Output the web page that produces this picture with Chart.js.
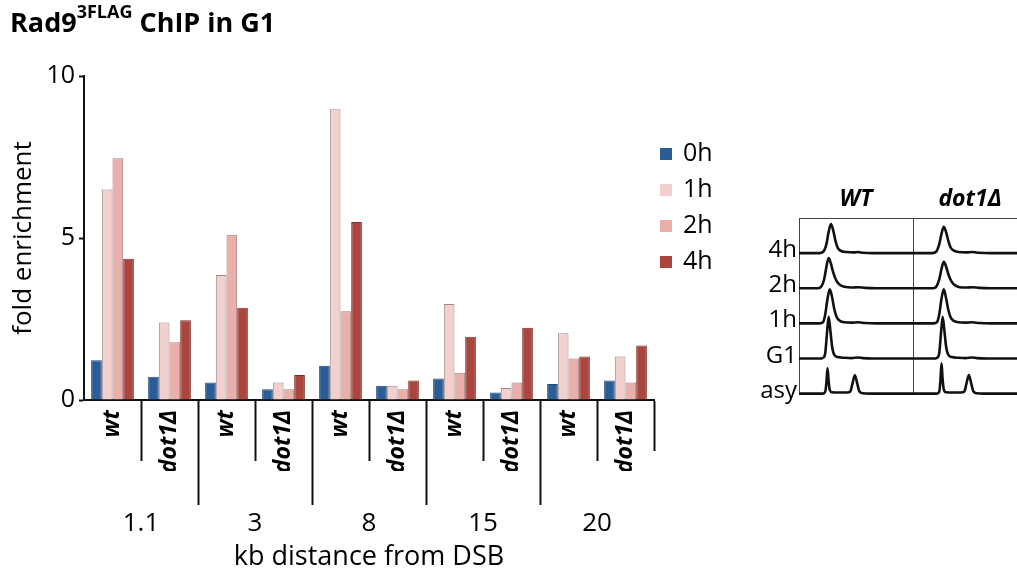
<!DOCTYPE html>
<html>
<head>
<meta charset="utf-8">
<script src="https://cdn.jsdelivr.net/npm/chart.js@4.4.1/dist/chart.umd.min.js"></script>
<style>
  html, body { margin: 0; padding: 0; background: #fff; overflow: hidden; }
  #wrap { position: relative; width: 1017px; height: 571px; overflow: hidden; }
  #main { position: absolute; left: 0; top: 0; }
  #facs { position: absolute; left: 740px; top: 180px; }
  #title { position: absolute; left: 10px; top: 7px; font: bold 27px 'Open Sans', sans-serif; line-height: 30px; color: #000; white-space: nowrap; }
  #title sup { font-size: 18px; vertical-align: baseline; position: relative; top: -14px; }
</style>
</head>
<body>
<div id="wrap">
  <canvas id="main" width="1017" height="571"></canvas>
  <canvas id="facs" width="300" height="230"></canvas>
  <div id="title">Rad9<sup>3FLAG</sup> ChIP in G1</div>
</div>
<script>
// ChIP data: fold enrichment per strain, grouped by distance from the DSB
const strains = ['wt', 'dot1Δ', 'wt', 'dot1Δ', 'wt', 'dot1Δ', 'wt', 'dot1Δ', 'wt', 'dot1Δ'];
const distances = ['1.1', '3', '8', '15', '20'];
const timepoints = ['0h', '1h', '2h', '4h'];
const h0 = [1.23, 0.72, 0.54, 0.33, 1.06, 0.44, 0.66, 0.23, 0.49, 0.60];
const h1 = [6.50, 2.39, 3.86, 0.54, 8.97, 0.44, 2.96, 0.37, 2.06, 1.34];
const h2 = [7.46, 1.78, 5.10, 0.33, 2.74, 0.33, 0.84, 0.54, 1.28, 0.54];
const h4 = [4.36, 2.46, 2.85, 0.77, 5.49, 0.60, 1.95, 2.23, 1.34, 1.68];
const yTicks = [0, 5, 10];

// FACS inset: [DNA content, cell count]
const facsRows = ['4h', '2h', '1h', 'G1', 'asy'];
const facsCols = ['WT', 'dot1Δ'];
const wt4h = [[0,0],[18,0],[21,3],[24,25],[26,60],[28,83],[30,65],[32,35],[34,15],[37,6],[42,3],[48,2],[52,3],[56,1],[65,0],[100,0]];
const wt2h = [[0,0],[16,0],[19,3],[22,25],[24,60],[26,86],[28,70],[30,45],[33,20],[36,9],[40,4],[46,2],[52,3],[58,1],[68,0],[100,0]];
const wt1h = [[0,0],[18,0],[21,3],[23,25],[25,70],[27,97],[29,75],[31,40],[33,18],[36,7],[40,3],[46,2],[52,3],[58,1],[68,0],[100,0]];
const wtG1 = [[0,0],[18,0],[21,2],[23,15],[24.5,70],[26,119],[27.5,80],[29,35],[31,10],[34,4],[40,2],[46,1],[52,3],[56,1],[65,0],[100,0]];
const wtAsy = [[0,0],[21,0],[23,5],[24,30],[25,72],[26,35],[27,10],[29,4],[35,3],[42,3],[45,6],[47,30],[49,52],[51,30],[53,6],[56,1],[62,0],[100,0]];
const dot4h = [[0,0],[17,0],[20,3],[23,25],[25,55],[27,75],[29,60],[31,35],[33,16],[36,7],[40,3],[47,2],[52,3],[58,1],[68,0],[100,0]];
const dot2h = [[0,0],[17,0],[20,3],[23,25],[25,55],[27,75],[29,62],[31,40],[34,18],[37,8],[41,3],[47,2],[52,3],[58,1],[68,0],[100,0]];
const dot1h = [[0,0],[18,0],[21,3],[23,25],[25,70],[27,97],[29,72],[31,38],[33,17],[36,7],[40,3],[46,2],[52,3],[58,1],[68,0],[100,0]];
const dotG1 = [[0,0],[18,0],[21,2],[23,15],[24.5,70],[26,119],[27.5,80],[29,35],[31,10],[34,4],[40,2],[46,1],[52,3],[56,1],[65,0],[100,0]];
const dotAsy = [[0,0],[21,0],[23,5],[24,35],[25,86],[26,40],[27,12],[29,4],[35,3],[42,3],[45,6],[47,30],[49,53],[51,30],[53,6],[56,1],[62,0],[100,0]];

const barColors = ['#2b5c95', '#f2d0ce', '#e8afab', '#ab463f'];
const barEdges = ['#23497a', '#9a8c8b', '#9b7f7d', '#7d302b'];
const font = 'Open Sans';

// legend drawn to the right of the bars
const sideLegend = {
  id: 'sideLegend',
  afterDraw(chart) {
    const { ctx, chartArea } = chart;
    ctx.save();
    ctx.font = '25px "' + font + '"';
    ctx.textBaseline = 'middle';
    chart.data.datasets.forEach((ds, i) => {
      const y = chartArea.top + 78 + i * 36;
      ctx.fillStyle = ds.backgroundColor;
      ctx.fillRect(chartArea.right + 6, y - 6, 12, 12);
      ctx.fillStyle = '#000';
      ctx.fillText(ds.label, chartArea.right + 29, y);
    });
    ctx.restore();
  }
};

const series = [h0, h1, h2, h4];

new Chart(document.getElementById('main'), {
  type: 'bar',
  data: {
    labels: strains,
    datasets: timepoints.map((t, i) => ({
      label: t,
      data: series[i],
      backgroundColor: barColors[i],
      borderColor: barEdges[i],
      borderWidth: 1
    }))
  },
  options: {
    responsive: false,
    animation: false,
    devicePixelRatio: 1,
    layout: { padding: { top: 76, right: 363, bottom: 0, left: 0 } },
    datasets: { bar: { categoryPercentage: 0.75, barPercentage: 1.0 } },
    plugins: { legend: { display: false }, tooltip: { enabled: false } },
    scales: {
      x: {
        position: 'bottom',
        weight: 0,
        grid: {
          offset: true,
          drawOnChartArea: false,
          tickLength: 105,
          tickWidth: 2,
          tickColor: ctx => ctx.index === 0 ? 'rgba(0,0,0,0)' : '#111',
          tickBorderDash: ctx => {
            if (ctx.index === undefined) return [50, 300];
            return ctx.index % 2 === 1 ? [60, 300] : [];
          }
        },
        border: { color: '#111', width: 2 },
        ticks: {
          autoSkip: false, minRotation: 90, maxRotation: 90, padding: -95, color: '#000',
          font: { family: font, size: 23, style: 'italic', weight: 'bold' }
        },
        afterFit: s => { s.height = 71; }
      },
      x2: {
        type: 'category',
        labels: distances,
        position: 'bottom',
        weight: 1,
        grid: { display: false, drawTicks: false },
        border: { display: false },
        ticks: { padding: 37, color: '#000', font: { family: font, size: 26 } },
        title: { display: true, text: 'kb distance from DSB', color: '#000', font: { family: font, size: 27 }, padding: { top: 0, bottom: -3 } },
        afterFit: s => { s.height = 100; }
      },
      y: {
        min: 0,
        max: 10,
        afterBuildTicks: s => { s.ticks = yTicks.map(v => ({ value: v })); },
        grid: { drawOnChartArea: false, tickLength: 5, tickWidth: 2, tickColor: '#111' },
        border: { color: '#111', width: 2 },
        ticks: { padding: 4, color: '#000', font: { family: font, size: 25 } },
        title: { display: true, text: 'fold enrichment', color: '#000', font: { family: font, size: 26 }, padding: { top: 8, bottom: 0 } },
        afterFit: s => { s.width = 84; }
      }
    }
  },
  plugins: [sideLegend]
});

// FACS inset: one stacked y axis per time point, one stacked x axis per strain
const facsData = [[wt4h, wt2h, wt1h, wtG1, wtAsy], [dot4h, dot2h, dot1h, dotG1, dotAsy]];
const facsScales = {};
facsCols.forEach((name, i) => {
  facsScales['c' + i] = {
    type: 'linear', axis: 'x', position: 'top', stack: 'cols', weight: facsCols.length - i,
    min: 0, max: 100,
    grid: { display: i === 0, drawTicks: false, color: '#444', lineWidth: 1 },
    border: { display: true, color: '#444', width: 1 },
    ticks: { display: false },
    afterBuildTicks: s => { s.ticks = i === 0 ? [{ value: 100 }] : []; },
    title: { display: true, text: name, color: '#000', font: { family: font, size: 23, style: 'italic', weight: 'bold' }, padding: { top: 6, bottom: 0 } },
    afterFit: s => { s.height = 38; }
  };
});
facsRows.forEach((name, i) => {
  facsScales['r' + i] = {
    type: 'linear', axis: 'y', position: 'left', stack: 'rows', weight: facsRows.length - i,
    min: 0, max: 100,
    grid: { display: false, drawTicks: false },
    border: { display: true, color: '#444', width: 1 },
    ticks: { padding: 2, color: '#000', font: { family: font, size: 24 }, callback: () => name },
    afterBuildTicks: s => { s.ticks = [{ value: 8 }]; },
    afterFit: s => { s.width = 59; }
  };
});

const facsSets = [];
facsCols.forEach((c, ci) => {
  facsRows.forEach((r, ri) => {
    facsSets.push({
      label: c + ' ' + r,
      data: facsData[ci][ri],
      xAxisID: 'c' + ci,
      yAxisID: 'r' + ri,
      borderColor: '#111',
      borderWidth: 2.6,
      pointRadius: 0,
      cubicInterpolationMode: 'monotone',
      clip: false
    });
  });
});

new Chart(document.getElementById('facs'), {
  type: 'line',
  data: { datasets: facsSets },
  options: {
    responsive: false,
    animation: false,
    devicePixelRatio: 1,
    layout: { padding: { top: 0, right: 13, bottom: 0, left: 0 } },
    plugins: { legend: { display: false }, tooltip: { enabled: false } },
    scales: facsScales
  }
});
</script>
</body>
</html>
